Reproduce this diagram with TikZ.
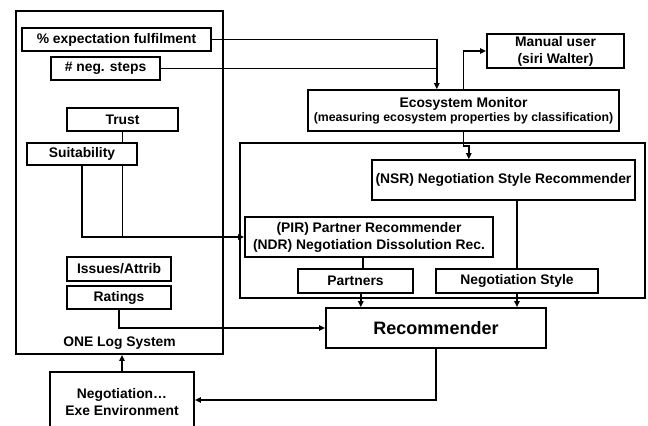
\documentclass[tikz,border=0pt]{standalone}
\usepackage{fontspec}
\setmainfont{Liberation Sans}
\usetikzlibrary{arrows.meta, positioning}

\begin{document}
\begin{tikzpicture}[x=0.75pt, y=-0.75pt,
    font=\bfseries\fontsize{10.4}{12.7}\selectfont,
    box/.style 2 args={draw, line width=1.3pt, inner sep=0pt, align=center,
      minimum width=#1*0.75pt, minimum height=#2*0.75pt},
    link/.style={line width=1.1pt},
    arr/.style={line width=1.1pt, -{Triangle[length=4.5pt, width=4pt]}}]

  \useasboundingbox (0,0) rectangle (648,425);

  % Log system and its entries
  \node[box={207}{343}] (logsys) at (119.5,182.5) {};
  \node (logtitle) at (119.5,343) {ONE Log System};
  \node[box={189}{23}] (expect) at (116.5,39.5) {\% expectation fulfilment};
  \node[box={109}{23}] (steps) at (105.5,68.5) {\# neg. steps};
  \node[box={111}{23}] (trust) at (122.5,119.5) {Trust};
  \node[box={110}{22}] (suit) at (82,154) {Suitability};
  \node[box={104}{24}] (issues) at (119,269) {Issues/Attrib};
  \node[box={104}{23}] (ratings) at (119,297.5) {Ratings};

  % Environment
  \node[box={144}{60}] (negenv) at (122,402) {Negotiation\dots\\ Exe Environment};

  % Monitor and manual user
  \node[box={311}{41}] (ecomon) at (463.5,110.5)
    {Ecosystem Monitor\\[-2pt]
     {\fontsize{9.2}{10}\selectfont (measuring ecosystem properties by classification)}};
  \node[box={137}{34}] (manual) at (555.5,51) {Manual user\\ (siri Walter)};

  % Recommenders
  \node[box={405}{155}] (recarea) at (442.5,220.5) {};
  \node[box={263}{40}] (nsr) at (503.5,180) {(NSR) Negotiation Style Recommender};
  \node[box={248}{40}] (pir) at (369,237)
    {(PIR) Partner Recommender\\ (NDR) Negotiation Dissolution Rec.};
  \node[box={115}{24}] (partners) at (355.5,281) {Partners};
  \node[box={162}{24}] (negstyle) at (517,281) {Negotiation Style};
  \node[box={220}{40}, font=\bfseries\fontsize{13.5}{15}\selectfont]
    (recommender) at (436,328) {Recommender};

  \coordinate (monin) at ([xshift=-20pt]ecomon.north);

  \draw[arr] (expect.east) -| (monin);
  \draw[link] (steps.east) -- (steps.east -| monin);
  \draw[arr] (ecomon.north) |- (manual.west);
  \draw[arr] (ecomon.south) -- ++(0,14) -| ([xshift=-26pt]nsr.north);
  \draw[link] (trust.south) -- (trust.south |- suit.north);
  \draw[arr] (suit.south) |- (pir.west);
  \draw[link] (trust.south |- suit.south) -- (trust.south |- pir.west);
  \draw[arr] (ratings.south) |- (recommender.west);
  \draw[link] ([xshift=5.6pt]partners.north) -- ([xshift=5.6pt]partners.north |- pir.south);
  \draw[link] (negstyle.north) -- (negstyle.north |- nsr.south);
  \draw[arr] ([xshift=4pt]partners.south) -- ([xshift=4pt]partners.south |- recommender.north);
  \draw[arr] (negstyle.south) -- (negstyle.south |- recommender.north);
  \draw[arr] (recommender.south) |- ([yshift=1.5pt]negenv.east);
  \draw[arr] (negenv.north -| 122,0) -- (122,0 |- logsys.south);

\end{tikzpicture}
\end{document}
